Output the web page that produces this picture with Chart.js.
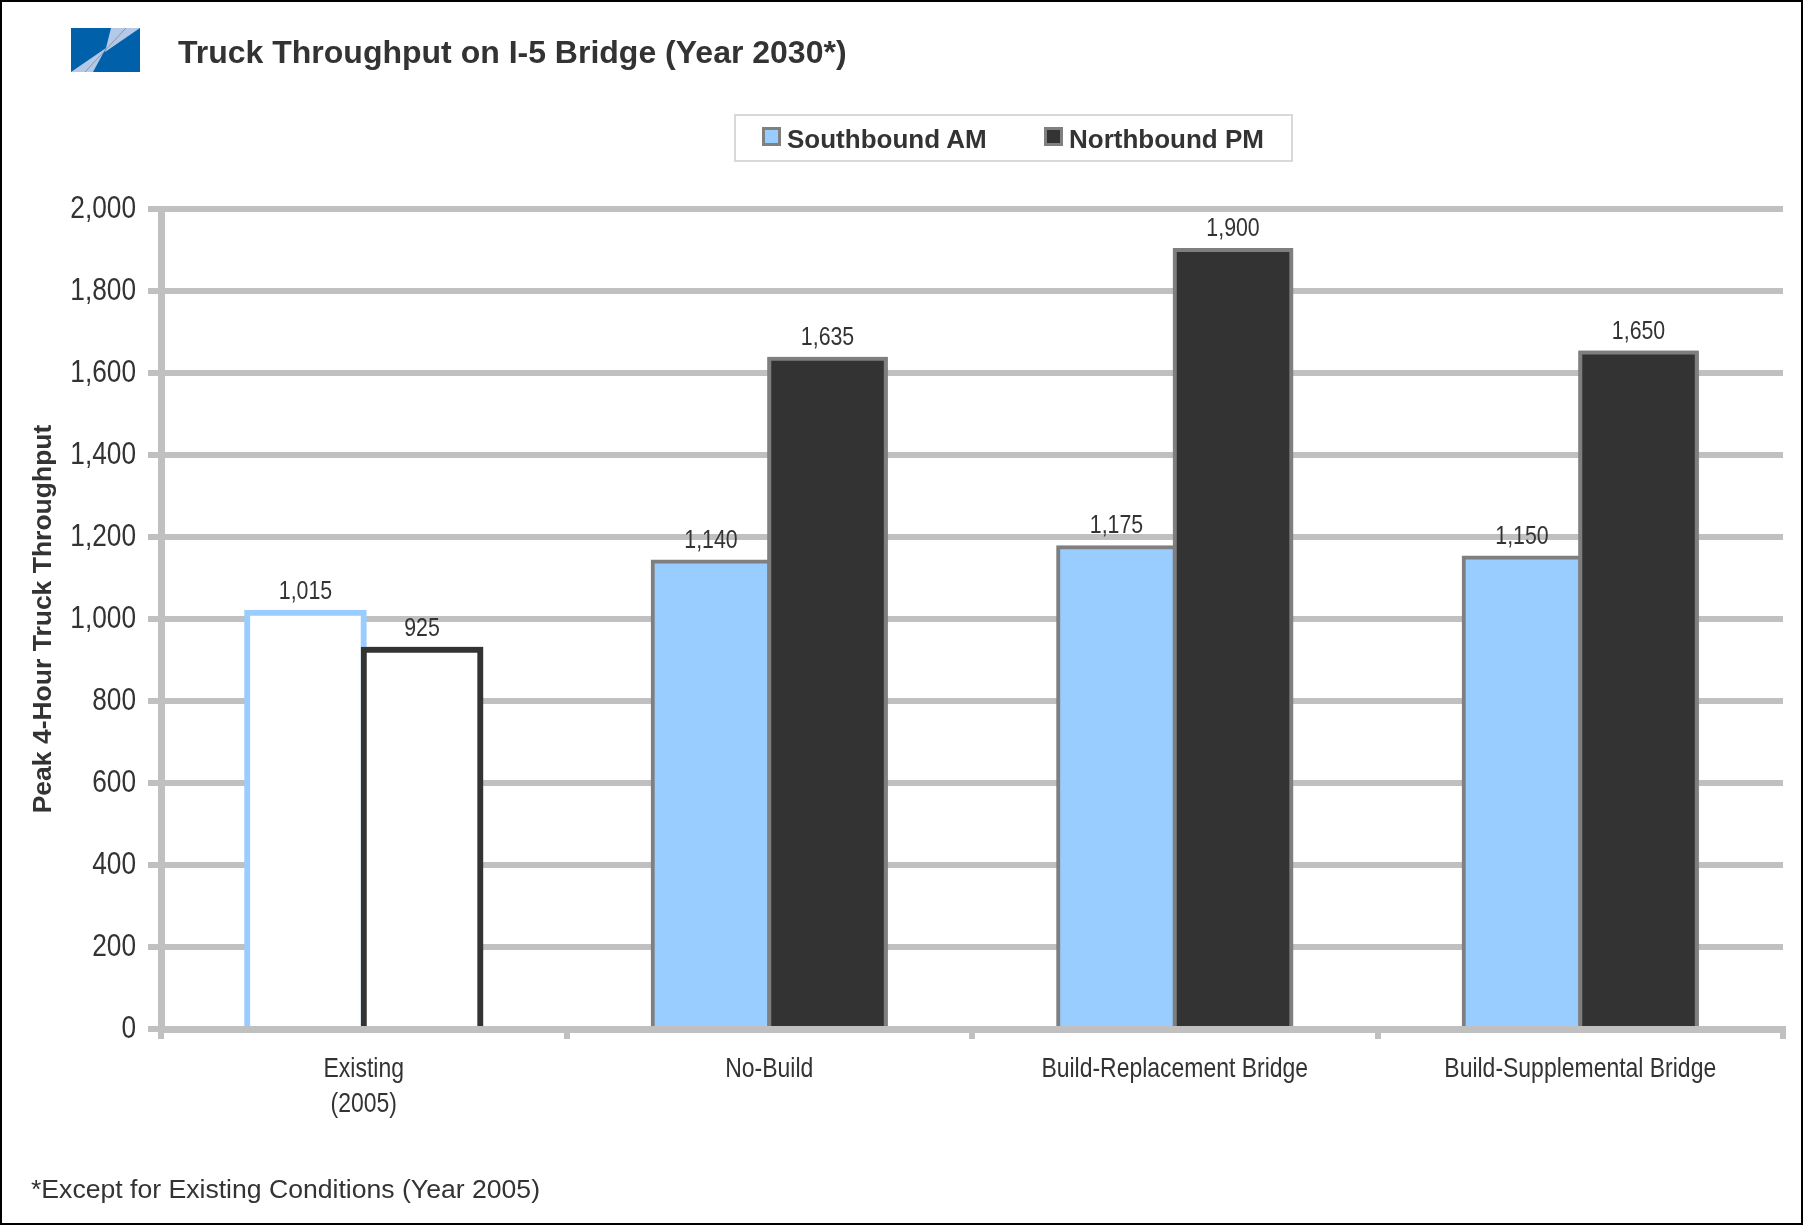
<!DOCTYPE html>
<html lang="en">
<head>
<meta charset="UTF-8">
<title>Truck Throughput on I-5 Bridge (Year 2030*)</title>
<script src="https://cdn.jsdelivr.net/npm/chart.js"></script>
<style>
  body { margin: 0; background: #fff; }
  #page { position: relative; width: 1803px; height: 1225px; overflow: hidden; font-family: "Liberation Sans", Arial, sans-serif; color: #333; }
  #frame { position: absolute; left: 0; top: 0; width: 1803px; height: 1225px; box-sizing: border-box; border: 2px solid #000; pointer-events: none; }
  #chart { position: absolute; left: 0; top: 0; }
  #logo { position: absolute; left: 71px; top: 28px; width: 69px; height: 44px; }
  #title { position: absolute; left: 178px; top: 34px; font-size: 32px; font-weight: bold; white-space: nowrap; }
  #legend { position: absolute; left: 734px; top: 114px; width: 559px; height: 48px; box-sizing: border-box; border: 2px solid #d9d9d9; }
  .item { position: absolute; top: 9px; font-size: 26px; font-weight: bold; white-space: nowrap; line-height: 28px; }
  .sw { display: inline-block; width: 13px; height: 13px; border: 3px solid #808080; vertical-align: 2px; margin-right: 6px; }
  #note { position: absolute; left: 31px; top: 1174px; font-size: 26.6px; white-space: nowrap; }
</style>
</head>
<body>
<div id="page">
  <canvas id="chart" width="1803" height="1225"></canvas>

  <svg id="logo" viewBox="0 0 69 44">
    <rect width="69" height="44" fill="#0061aa"/>
    <polygon points="40,0 69,0 34,24" fill="#b4c8e8"/>
    <polygon points="35,20 22,44 0,44" fill="#b4c8e8"/>
    <line x1="55" y1="0" x2="14" y2="44" stroke="#8a96a8" stroke-width="1"/>
  </svg>
  <div id="title">Truck Throughput on I-5 Bridge (Year 2030*)</div>

  <div id="legend">
    <div class="item" style="left: 26px;"><span class="sw" style="background:#99ccff"></span>Southbound AM</div>
    <div class="item" style="left: 308px;"><span class="sw" style="background:#333333"></span>Northbound PM</div>
  </div>

  <div id="note">*Except for Existing Conditions (Year 2005)</div>
  <div id="frame"></div>
</div>

<script>
    // valores
    const categorias = [['Existing', '(2005)'], 'No-Build', 'Build-Replacement Bridge', 'Build-Supplemental Bridge'];
    const southboundAM = [1015, 1140, 1175, 1150];
    const northboundPM = [925, 1635, 1900, 1650];
    const yMin = 0;
    const yMax = 2000;
    const yStep = 200;

    function fmt(v) {
        return Number(v).toLocaleString('en-US');
    }

    // sem fonte "narrow" instalada: Liberation Sans comprimida na horizontal
    function textoEstreito(ctx, txt, x, y, size, align) {
        ctx.save();
        ctx.font = size + 'px "Liberation Sans", Arial, sans-serif';
        ctx.fillStyle = '#333';
        ctx.textAlign = align;
        ctx.textBaseline = 'middle';
        ctx.translate(x, y);
        ctx.scale(0.82, 1);
        ctx.fillText(txt, 0, 0);
        ctx.restore();
    }

    // Chart.js desenha a primeira série por cima; aqui a segunda fica por cima (como no Excel)
    const ordemBarras = {
        id: 'ordemBarras',
        afterDatasetsDraw(chart) {
            chart.getDatasetMeta(1).data.forEach(function (bar) {
                bar.draw(chart.ctx);
            });
        }
    };

    // rótulos dos eixos e valores em cima das barras
    const rotulos = {
        id: 'rotulos',
        afterDraw(chart) {
            const ctx = chart.ctx;
            const sx = chart.scales.x;
            const sy = chart.scales.y;

            sy.ticks.forEach(function (t) {
                textoEstreito(ctx, fmt(t.value), 136, sy.getPixelForValue(t.value), 32, 'right');
            });

            categorias.forEach(function (c, i) {
                const linhas = Array.isArray(c) ? c : [c];
                const x = sx.getPixelForValue(i);
                linhas.forEach(function (l, k) {
                    textoEstreito(ctx, l, x, chart.chartArea.bottom + 40 + k * 35, 28, 'center');
                });
            });

            chart.data.datasets.forEach(function (ds, i) {
                chart.getDatasetMeta(i).data.forEach(function (bar, j) {
                    textoEstreito(ctx, fmt(ds.data[j]), bar.x, bar.y - 21, 26, 'center');
                });
            });
        }
    };

    const dados = {
        labels: categorias,
        datasets: [{
            label: 'Southbound AM',
            data: southboundAM,
            backgroundColor: ['#ffffff', '#99ccff', '#99ccff', '#99ccff'],
            borderColor: ['#99ccff', '#7f7f7f', '#7f7f7f', '#7f7f7f'],
            borderWidth: [6, 4, 4, 4],
            inflateAmount: [3, 2, 2, 2]
        }, {
            label: 'Northbound PM',
            data: northboundPM,
            backgroundColor: ['#ffffff', '#333333', '#333333', '#333333'],
            borderColor: ['#333333', '#7f7f7f', '#7f7f7f', '#7f7f7f'],
            borderWidth: [6, 4, 4, 4],
            inflateAmount: [3, 2, 2, 2]
        }]
    };

    const config = {
        type: 'bar',
        data: dados,
        options: {
            responsive: false,
            animation: false,
            categoryPercentage: 0.575,
            barPercentage: 1,
            layout: { padding: { left: 0, top: 209, right: 20, bottom: 0 } },
            plugins: {
                legend: { display: false },
                tooltip: { enabled: false }
            },
            scales: {
                x: {
                    z: 1,
                    grid: { display: true, drawOnChartArea: false, color: '#c0c0c0', lineWidth: 6, tickLength: 10, offset: true },
                    border: { color: '#c0c0c0', width: 7 },
                    ticks: { display: false },
                    afterFit: function (s) { s.height = 196; }
                },
                y: {
                    min: yMin,
                    max: yMax,
                    grid: { color: '#c0c0c0', lineWidth: 6, tickLength: 13 },
                    border: { color: '#c0c0c0', width: 7 },
                    ticks: { stepSize: yStep, display: false },
                    title: {
                        display: true,
                        text: 'Peak 4-Hour Truck Throughput',
                        color: '#333',
                        font: { family: '"Liberation Sans", Arial, sans-serif', size: 26.5, weight: 'bold' },
                        padding: { top: 28, bottom: 0 }
                    },
                    afterFit: function (s) { s.width = 161; }
                }
            }
        },
        plugins: [ordemBarras, rotulos]
    };

    let myChart = new Chart(document.getElementById('chart'), config);
</script>
</body>
</html>
